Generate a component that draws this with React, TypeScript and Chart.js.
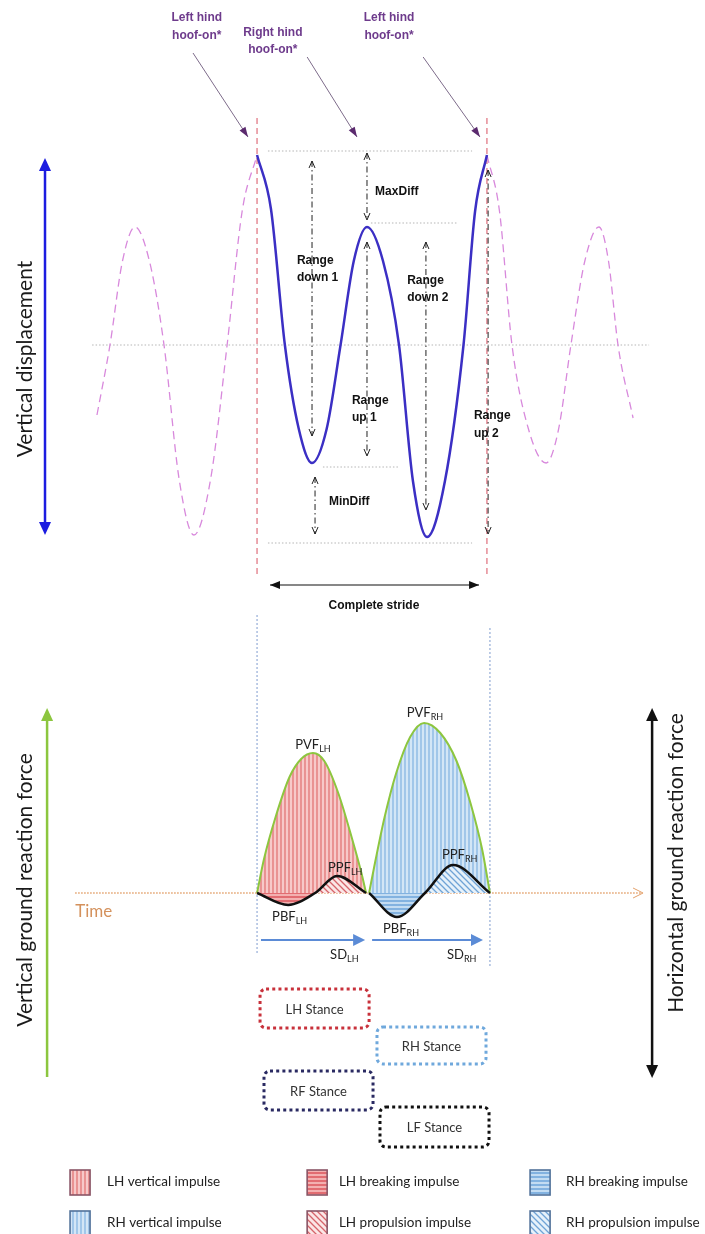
import React, { useEffect, useRef } from "react";
import { Chart, registerables } from "chart.js";

Chart.register(...registerables);

// ---------- axes ranges (time in % of the complete stride, 0 = left hind hoof-on) ----------
const X_RANGE = [-110.8, 193.1];
const DISP_RANGE = [-444.5, 172.5];
const FORCE_RANGE = [-170.5, 446.5];

// ---------- vertical displacement ----------
const strideTime = [0, 6, 12, 18, 23.7, 30, 36, 41.7, 47.4, 54.3, 61.2, 67.2, 73.3, 81, 89, 94, 99.1];
const strideDisp = [95, 68, 0, -42, -59, -42, 0, 42, 59, 42, 0, -68, -96, -68, 0, 67, 95];
const prevTime = [-69, -63.4, -58, -52.6, -46.4, -40.1, -33.6, -27.2, -20, -12.9, -6.4, 0];
const prevDisp = [-35, 0, 42, 59, 42, 0, -67, -95, -67, 0, 67, 95];
const nextTime = [99.1, 104.5, 109.9, 117, 124.6, 130, 135.3, 141.3, 147.4, 151.5, 155.6, 162.1];
const nextDisp = [95, 67, 0, -42, -59, -42, 0, 42, 59, 42, 0, -36.5];

// ---------- ground reaction forces ----------
const lhVertTime = [0, 3, 8, 14, 19, 24.1, 29, 35, 41, 45, 47];
const lhVertForce = [0, 17, 38, 58, 67, 70, 66, 50, 27, 10, 0];
const rhVertTime = [48.3, 51, 55, 60, 66, 72, 79, 86, 92, 97, 100.4];
const rhVertForce = [0, 16, 38, 60, 78, 85, 80, 66, 45, 22, 0];
const lhHorzTime = [0, 13.4, 25, 34.5, 47];
const lhHorzForce = [0, -6, 0, 8.5, 0];
const rhHorzTime = [48.3, 60.3, 72.4, 84.5, 100.4];
const rhHorzForce = [0, -12, 0, 14, 0];

// ---------- annotations (data units) ----------
const TOP_LABELS = [
  { t: -26, v: [163.5, 154.5], lines: ["Left hind", "hoof-on*"] },
  { t: 6.8, v: [156, 147.5], lines: ["Right hind", "hoof-on*"] },
  { t: 56.9, v: [163.5, 154.5], lines: ["Left hind", "hoof-on*"] },
];
const POINTERS = [
  { t0: -27.6, v0: 146, t1: -3.9, v1: 104 },
  { t0: 21.6, v0: 144, t1: 43.1, v1: 104 },
  { t0: 71.6, v0: 144, t1: 96.1, v1: 104 },
];
const STRIDE_MARKS = [0, 99.1];
const GUIDES = [
  { v: 97, t0: 4.7, t1: 92.7 },
  { v: 61, t0: 49.1, t1: 86.6 },
  { v: -61, t0: 28.4, t1: 61.2 },
  { v: -99, t0: 4.7, t1: 92.7 },
  { v: 0, t0: -71.1, t1: 169 },
];
const RANGES = [
  { t: 23.7, from: 92, to: -45.5, label: ["Range", "down 1"], lt: 17.2, lv: [42, 33.5] },
  { t: 47.4, from: 96, to: 62.5, label: ["MaxDiff"], lt: 50.9, lv: [76.5] },
  { t: 47.4, from: 51.5, to: -55.5, label: ["Range", "up 1"], lt: 40.9, lv: [-28, -36.5] },
  { t: 25, from: -66, to: -94.5, label: ["MinDiff"], lt: 31, lv: [-78.5] },
  { t: 72.8, from: 51.5, to: -82.5, label: ["Range", "down 2"], lt: 64.7, lv: [32, 23.5] },
  { t: 99.6, from: 87.5, to: -94.5, label: ["Range", "up 2"], lt: 93.5, lv: [-35.5, -44.5] },
];
const STANCES = [
  { label: "LH Stance", t0: 1.3, t1: 48.3, v0: -48, v1: -67.5, color: "#c8313b" },
  { label: "RH Stance", t0: 51.7, t1: 98.7, v0: -67, v1: -85.5, color: "#6fa8dc" },
  { label: "RF Stance", t0: 3, t1: 50, v0: -89, v1: -108.5, color: "#2a2a62" },
  { label: "LF Stance", t0: 53, t1: 100, v0: -107, v1: -127, color: "#111111" },
];
const FORCE_LABELS = [
  { main: "PVF", sub: "LH", t: 24.1, v: 74, align: "center" },
  { main: "PVF", sub: "RH", t: 72.4, v: 90, align: "center" },
  { main: "PPF", sub: "LH", t: 30.6, v: 12.5, align: "left" },
  { main: "PPF", sub: "RH", t: 79.7, v: 19, align: "left" },
  { main: "PBF", sub: "LH", t: 6.5, v: -12, align: "left" },
  { main: "PBF", sub: "RH", t: 54.3, v: -18, align: "left" },
  { main: "SD", sub: "LH", t: 31.5, v: -31, align: "left" },
  { main: "SD", sub: "RH", t: 81.9, v: -31, align: "left" },
];
const SD_ARROWS = [
  { t0: 1.7, t1: 46.6, v: -23.5 },
  { t0: 49.6, t1: 97.4, v: -23.5 },
];
const LEGEND = [
  { label: "LH vertical impulse", key: "lhV", t: -80.6, tt: -64.7, v: -144.5 },
  { label: "LH breaking impulse", key: "lhB", t: 21.6, tt: 35.3, v: -144.5 },
  { label: "RH breaking impulse", key: "rhB", t: 117.7, tt: 133.2, v: -144.5 },
  { label: "RH vertical impulse", key: "rhV", t: -80.6, tt: -64.7, v: -165 },
  { label: "LH propulsion impulse", key: "lhP", t: 21.6, tt: 35.3, v: -165 },
  { label: "RH propulsion impulse", key: "rhP", t: 117.7, tt: 133.2, v: -165 },
];

const pts = (xs: number[], ys: number[]) => xs.map((x, i) => ({ x, y: ys[i] }));

const SANS_B = "bold 12px 'Liberation Sans', Arial, sans-serif";
const CAL = "Lato, 'Open Sans', sans-serif";

function makePattern(kind: string, bg: string, fg: string): CanvasPattern | string {
  const s = kind === "diag" ? 6 : 4;
  const c = document.createElement("canvas");
  c.width = s;
  c.height = s;
  const g = c.getContext("2d");
  if (!g) return bg;
  g.fillStyle = bg;
  g.fillRect(0, 0, s, s);
  g.strokeStyle = fg;
  g.lineWidth = 1.3;
  g.beginPath();
  if (kind === "v") {
    g.moveTo(1, 0);
    g.lineTo(1, s);
  } else if (kind === "h") {
    g.moveTo(0, 1);
    g.lineTo(s, 1);
  } else {
    g.moveTo(-1, -1);
    g.lineTo(s + 1, s + 1);
    g.moveTo(-1, s - 1);
    g.lineTo(1, s + 1);
    g.moveTo(s - 1, -1);
    g.lineTo(s + 1, 1);
  }
  g.stroke();
  const p = g.createPattern(c, "repeat");
  return p || bg;
}

function head(ctx: CanvasRenderingContext2D, x0: number, y0: number, x1: number, y1: number, len: number, half: number, filled: boolean) {
  const a = Math.atan2(y1 - y0, x1 - x0);
  const bx = x1 - len * Math.cos(a);
  const by = y1 - len * Math.sin(a);
  const px = -Math.sin(a) * half;
  const py = Math.cos(a) * half;
  ctx.beginPath();
  ctx.moveTo(bx + px, by + py);
  ctx.lineTo(x1, y1);
  ctx.lineTo(bx - px, by - py);
  if (filled) {
    ctx.closePath();
    ctx.fill();
  } else {
    ctx.stroke();
  }
}

function roundRect(ctx: CanvasRenderingContext2D, x: number, y: number, w: number, h: number, r: number) {
  ctx.beginPath();
  ctx.moveTo(x + r, y);
  ctx.lineTo(x + w - r, y);
  ctx.arcTo(x + w, y, x + w, y + r, r);
  ctx.lineTo(x + w, y + h - r);
  ctx.arcTo(x + w, y + h, x + w - r, y + h, r);
  ctx.lineTo(x + r, y + h);
  ctx.arcTo(x, y + h, x, y + h - r, r);
  ctx.lineTo(x, y + r);
  ctx.arcTo(x, y, x + r, y, r);
  ctx.closePath();
}

export default function App() {
  const ref = useRef<HTMLCanvasElement>(null);
  useEffect(() => {
    document.body.style.margin = "0";
    const canvas = ref.current;
    if (!canvas) return;
    const P: Record<string, any> = {
      lhV: makePattern("v", "#f7c9c9", "#e27676"),
      rhV: makePattern("v", "#d3e6f6", "#86b6e2"),
      lhB: makePattern("h", "#f3b0b0", "#d9474f"),
      rhB: makePattern("h", "#c3dcf2", "#5f9bd5"),
      lhP: makePattern("diag", "#fbe6e6", "#d6646a"),
      rhP: makePattern("diag", "#e6f1fa", "#6fa3d6"),
    };

    const overlay = {
      id: "overlay",
      beforeDatasetsDraw(chart: any) {
        const ctx: CanvasRenderingContext2D = chart.ctx;
        const X = (t: number) => chart.scales.x.getPixelForValue(t);
        const D = (v: number) => chart.scales.yDisp.getPixelForValue(v);
        const F = (v: number) => chart.scales.yForce.getPixelForValue(v);
        ctx.save();
        ctx.strokeStyle = "#b5b5b5";
        ctx.lineWidth = 1;
        ctx.setLineDash([1.5, 2]);
        GUIDES.forEach((g) => {
          ctx.beginPath();
          ctx.moveTo(X(g.t0), D(g.v));
          ctx.lineTo(X(g.t1), D(g.v));
          ctx.stroke();
        });
        ctx.strokeStyle = "#df6f7c";
        ctx.lineWidth = 1.2;
        ctx.setLineDash([6, 4]);
        STRIDE_MARKS.forEach((t) => {
          ctx.beginPath();
          ctx.moveTo(X(t), D(113.5));
          ctx.lineTo(X(t), D(-116.5));
          ctx.stroke();
        });
        ctx.strokeStyle = "#7f9ccf";
        ctx.lineWidth = 1;
        ctx.setLineDash([2, 2]);
        [
          { t: 0, v0: 139, v1: -31 },
          { t: 100.4, v0: 132.5, v1: -37 },
        ].forEach((l) => {
          ctx.beginPath();
          ctx.moveTo(X(l.t), F(l.v0));
          ctx.lineTo(X(l.t), F(l.v1));
          ctx.stroke();
        });
        ctx.strokeStyle = "#e3a06a";
        ctx.lineWidth = 1.6;
        ctx.setLineDash([1.5, 1.5]);
        ctx.beginPath();
        ctx.moveTo(X(-78.4), F(0));
        ctx.lineTo(X(165.5), F(0));
        ctx.stroke();
        ctx.setLineDash([]);
        ctx.lineWidth = 1;
        head(ctx, X(160), F(0), X(166.4), F(0), 10, 5, false);
        ctx.restore();
      },
      afterDatasetsDraw(chart: any) {
        const ctx: CanvasRenderingContext2D = chart.ctx;
        const X = (t: number) => chart.scales.x.getPixelForValue(t);
        const D = (v: number) => chart.scales.yDisp.getPixelForValue(v);
        const F = (v: number) => chart.scales.yForce.getPixelForValue(v);
        ctx.save();
        ctx.setLineDash([]);

        ctx.font = SANS_B;
        ctx.fillStyle = "#6e3b8c";
        ctx.textAlign = "center";
        ctx.textBaseline = "middle";
        TOP_LABELS.forEach((l) => l.lines.forEach((s, i) => ctx.fillText(s, X(l.t), D(l.v[i]))));
        POINTERS.forEach((p) => {
          ctx.strokeStyle = "#7d6b8a";
          ctx.lineWidth = 1;
          ctx.beginPath();
          ctx.moveTo(X(p.t0), D(p.v0));
          ctx.lineTo(X(p.t1), D(p.v1));
          ctx.stroke();
          ctx.fillStyle = "#5b2a6e";
          head(ctx, X(p.t0), D(p.v0), X(p.t1), D(p.v1), 10, 3.5, true);
        });

        ctx.strokeStyle = "#222";
        RANGES.forEach((r) => {
          const x = X(r.t);
          ctx.lineWidth = 1;
          ctx.setLineDash([6, 3, 1.5, 3]);
          ctx.beginPath();
          ctx.moveTo(x, D(r.from));
          ctx.lineTo(x, D(r.to));
          ctx.stroke();
          ctx.setLineDash([]);
          head(ctx, x, D(r.to), x, D(r.from), 7, 3, false);
          head(ctx, x, D(r.from), x, D(r.to), 7, 3, false);
        });
        ctx.font = SANS_B;
        ctx.fillStyle = "#111";
        ctx.textAlign = "left";
        RANGES.forEach((r) => r.label.forEach((s, i) => ctx.fillText(s, X(r.lt), D(r.lv[i]))));

        ctx.strokeStyle = "#111";
        ctx.fillStyle = "#111";
        ctx.lineWidth = 1.2;
        ctx.beginPath();
        ctx.moveTo(X(5.6), D(-120));
        ctx.lineTo(X(95.7), D(-120));
        ctx.stroke();
        head(ctx, X(50), D(-120), X(5.6), D(-120), 10, 4, true);
        head(ctx, X(50), D(-120), X(95.7), D(-120), 10, 4, true);
        ctx.textAlign = "center";
        ctx.fillText("Complete stride", X(50.4), D(-130.5));

        const axisArrow = (t: number, vTop: number, vBot: number, Y: (v: number) => number, color: string, both: boolean) => {
          ctx.strokeStyle = color;
          ctx.fillStyle = color;
          ctx.lineWidth = 2.5;
          ctx.beginPath();
          ctx.moveTo(X(t), Y(vTop) + 8);
          ctx.lineTo(X(t), Y(vBot) - (both ? 8 : 0));
          ctx.stroke();
          head(ctx, X(t), Y(0), X(t), Y(vTop), 13, 6, true);
          if (both) head(ctx, X(t), Y(0), X(t), Y(vBot), 13, 6, true);
        };
        axisArrow(-91.4, 93.5, -95, D, "#1c1ce0", true);
        axisArrow(-90.5, 92.5, -92, F, "#8cc63f", false);
        axisArrow(170.3, 92.5, -92.5, F, "#111", true);
        const vLabel = (s: string, t: number, y: number) => {
          ctx.save();
          ctx.translate(X(t), y);
          ctx.rotate(-Math.PI / 2);
          ctx.font = "21px " + CAL;
          ctx.fillStyle = "#1a1a1a";
          ctx.textAlign = "center";
          ctx.textBaseline = "middle";
          ctx.fillText(s, 0, 0);
          ctx.restore();
        };
        vLabel("Vertical displacement", -99.8, D(-7));
        vLabel("Vertical ground reaction force", -99.8, F(1.5));
        vLabel("Horizontal ground reaction force", 180.8, F(15));

        ctx.font = "17px " + CAL;
        ctx.fillStyle = "#d4915c";
        ctx.textAlign = "left";
        ctx.textBaseline = "middle";
        ctx.fillText("Time", X(-78.4), F(-9.5));

        ctx.strokeStyle = "#5b8bd6";
        ctx.fillStyle = "#5b8bd6";
        ctx.lineWidth = 2;
        SD_ARROWS.forEach((a) => {
          ctx.beginPath();
          ctx.moveTo(X(a.t0), F(a.v));
          ctx.lineTo(X(a.t1) - 8, F(a.v));
          ctx.stroke();
          head(ctx, X(a.t0), F(a.v), X(a.t1), F(a.v), 12, 6, true);
        });

        ctx.fillStyle = "#222";
        FORCE_LABELS.forEach((l) => {
          ctx.font = "13px " + CAL;
          const w1 = ctx.measureText(l.main).width;
          ctx.font = "9px " + CAL;
          const w2 = ctx.measureText(l.sub).width;
          let x = X(l.t);
          if (l.align === "center") x -= (w1 + w2) / 2;
          const y = F(l.v);
          ctx.textAlign = "left";
          ctx.font = "13px " + CAL;
          ctx.fillText(l.main, x, y);
          ctx.font = "9px " + CAL;
          ctx.fillText(l.sub, x + w1, y + 4);
        });

        STANCES.forEach((s) => {
          const x0 = X(s.t0);
          const x1 = X(s.t1);
          const y0 = F(s.v0);
          const y1 = F(s.v1);
          ctx.strokeStyle = s.color;
          ctx.lineWidth = 3;
          ctx.setLineDash([3, 3.2]);
          roundRect(ctx, x0, y0, x1 - x0, y1 - y0, 6);
          ctx.stroke();
          ctx.setLineDash([]);
          ctx.font = "13px " + CAL;
          ctx.fillStyle = "#333";
          ctx.textAlign = "center";
          ctx.fillText(s.label, (x0 + x1) / 2, (y0 + y1) / 2 + 1);
        });

        LEGEND.forEach((l) => {
          const x = X(l.t);
          const y = F(l.v);
          ctx.fillStyle = P[l.key];
          ctx.fillRect(x, y - 12, 20, 25);
          ctx.strokeStyle = l.key.startsWith("lh") ? "#8a5566" : "#52729a";
          ctx.lineWidth = 1.6;
          ctx.strokeRect(x, y - 12, 20, 25);
          ctx.font = "13.5px " + CAL;
          ctx.fillStyle = "#222";
          ctx.textAlign = "left";
          ctx.fillText(l.label, X(l.tt), y);
        });
        ctx.restore();
      },
    };

    const line = (xs: number[], ys: number[], axis: string, extra: any) => ({
      data: pts(xs, ys),
      yAxisID: axis,
      showLine: true,
      pointRadius: 0,
      cubicInterpolationMode: "monotone",
      ...extra,
    });

    const chart = new Chart(canvas, {
      type: "scatter",
      data: {
        datasets: [
          line(lhHorzTime, lhHorzForce, "yForce", {
            borderColor: "#111",
            borderWidth: 2.5,
            fill: { target: "origin", above: P.lhP, below: P.lhB },
          }),
          line(rhHorzTime, rhHorzForce, "yForce", {
            borderColor: "#111",
            borderWidth: 2.5,
            fill: { target: "origin", above: P.rhP, below: P.rhB },
          }),
          line(lhVertTime, lhVertForce, "yForce", {
            borderColor: "#8dc63f",
            borderWidth: 2,
            backgroundColor: P.lhV,
            fill: "origin",
          }),
          line(rhVertTime, rhVertForce, "yForce", {
            borderColor: "#8dc63f",
            borderWidth: 2,
            backgroundColor: P.rhV,
            fill: "origin",
          }),
          line(strideTime, strideDisp, "yDisp", { borderColor: "#3b2fc4", borderWidth: 2.5 }),
          line(prevTime, prevDisp, "yDisp", { borderColor: "#d889dc", borderWidth: 1.3, borderDash: [8, 5] }),
          line(nextTime, nextDisp, "yDisp", { borderColor: "#d889dc", borderWidth: 1.3, borderDash: [8, 5] }),
        ],
      },
      options: {
        responsive: false,
        animation: false,
        devicePixelRatio: 1,
        events: [],
        layout: { padding: 0 },
        plugins: { legend: { display: false }, tooltip: { enabled: false }, title: { display: false } },
        scales: {
          x: { type: "linear", min: X_RANGE[0], max: X_RANGE[1], display: false },
          y: { type: "linear", display: false },
          yDisp: { type: "linear", min: DISP_RANGE[0], max: DISP_RANGE[1], display: false },
          yForce: { type: "linear", min: FORCE_RANGE[0], max: FORCE_RANGE[1], display: false },
        },
      } as any,
      plugins: [overlay],
    } as any);
    return () => chart.destroy();
  }, []);
  return <canvas ref={ref} width={705} height={1234} style={{ display: "block", width: 705, height: 1234 }} />;
}
